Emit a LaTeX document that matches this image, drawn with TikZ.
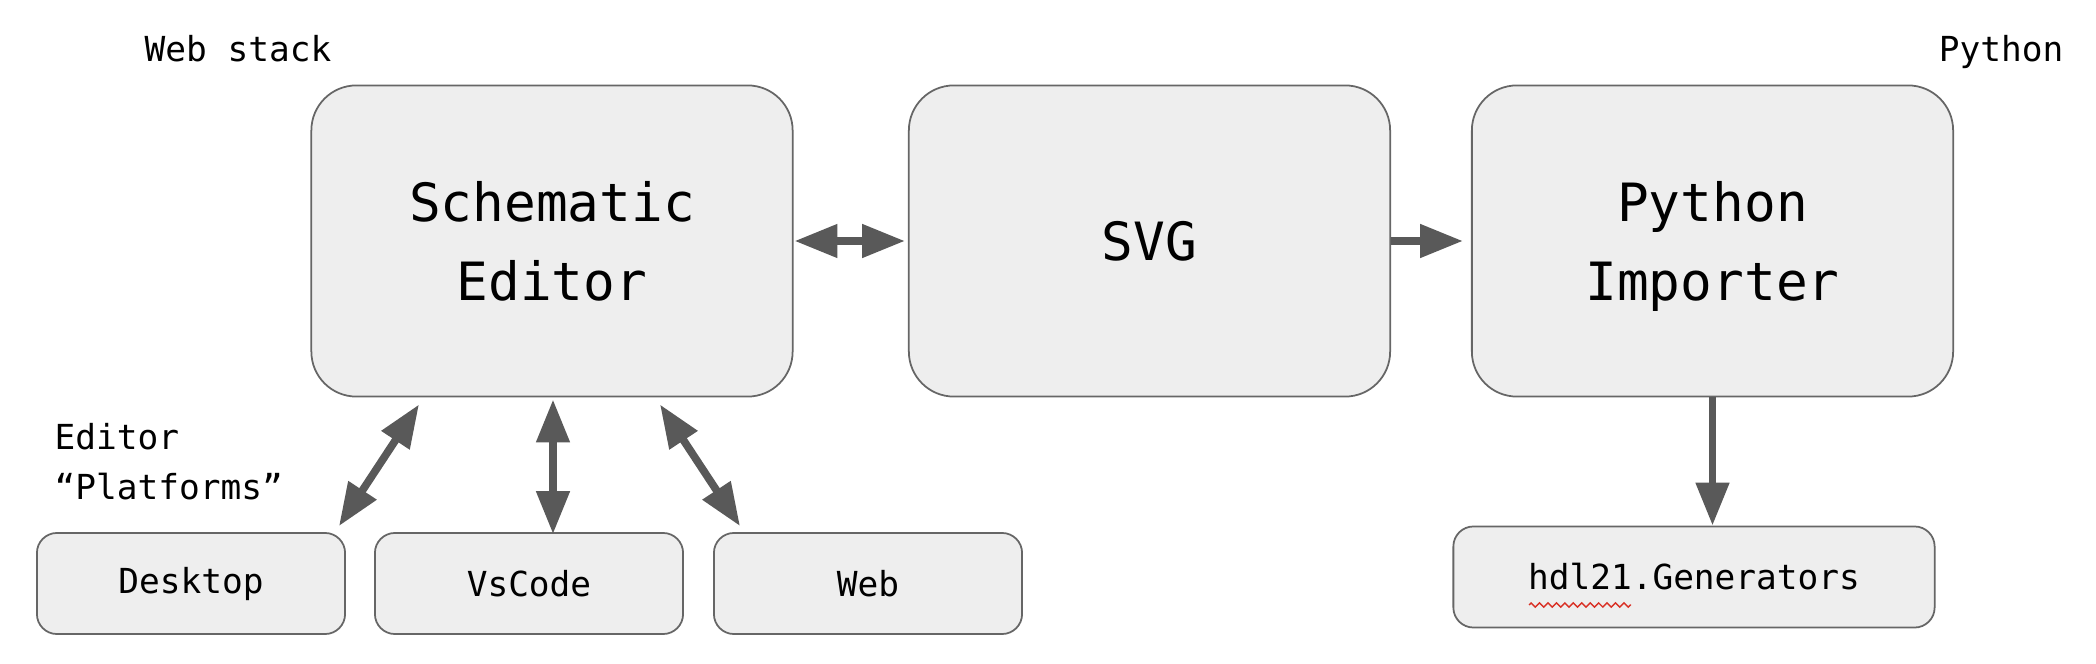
\documentclass[tikz,border=0pt]{standalone}
\usepackage{fontspec}
\setmainfont{DejaVu Sans Mono}
\usetikzlibrary{arrows.meta,decorations.pathmorphing}
\definecolor{boxgray}{HTML}{EEEEEE}
\definecolor{edgegray}{HTML}{666666}
\definecolor{arrowgray}{HTML}{595959}
\definecolor{spellred}{HTML}{D93025}
\newcommand\boxfont{\fontsize{15}{22.5}\selectfont}
\newcommand\tagfont{\fontsize{9.8}{14.2}\selectfont}
\tikzset{
  stage/.style={draw=edgegray, fill=boxgray, line width=0.5pt, rounded corners=0.45cm,
    minimum width=4.81cm, minimum height=3.11cm, align=center, font=\boxfont},
  plat/.style={stage, rounded corners=0.2cm, minimum width=3.08cm,
    minimum height=1.01cm, font=\tagfont},
  tag/.style={inner sep=0pt, align=left, font=\tagfont},
  link/.style={arrowgray, line width=2.2pt, -{Triangle[length=12.2pt,width=9.1pt]}},
  dlink/.style={link, {Triangle[length=12.2pt,width=9.1pt]}-{Triangle[length=12.2pt,width=9.1pt]}},
}
\begin{document}
\begin{tikzpicture}[x=0.01cm, y=-0.01cm]
    \useasboundingbox (0,0) rectangle (2096,664);
    %% main stages
    \node[stage] (editor) at (552,241) {Schematic\\Editor};
    \node[stage] (svg) at (1149.5,241) {SVG};
    \node[stage] (importer) at (1712.5,241) {Python\\\smash{Importer}};
    \node[plat, minimum width=4.81cm] (gens) at (1694,577) {hdl21.Generators};
    %% platforms
    \foreach \nm/\lbl/\x in {desktop/Desktop/191, vscode/VsCode/529, web/Web/868}
        \node[plat] (\nm) at (\x,583.5) {\lbl};
    %% labels
    \node[tag, anchor=base west] (webstack) at (144,62) {Web stack};
    \node[tag, anchor=base east] (pystack) at (2064,62) {Python};
    \node[tag, anchor=base west] (platlabel) at (54,499) {Editor\\“Platforms”};
    %% connectors
    \draw[dlink] ([shift={(1,0)}]editor.east) -- ([shift={(-3,0)}]svg.west);
    \draw[link] (svg.east) -- ([shift={(-8,0)}]importer.west);
    \draw[link] (importer.south) -- (importer.south |- gens.north);
    \draw[dlink] ([shift={(-133,7)}]editor.south) -- ([shift={(-7,-6)}]desktop.north east);
    \draw[dlink] ([shift={(1,2)}]editor.south) -- ([shift={(1,2)}]editor.south |- vscode.north);
    \draw[dlink] ([shift={(108,7)}]editor.south) -- ([shift={(27,-6)}]web.north west);
    %% spell mark
    \draw[spellred, line width=0.4pt, decorate,
        decoration={zigzag, amplitude=0.6pt, segment length=2.4pt}]
        ([shift={(-165,28)}]gens.center) -- ([shift={(-63,28)}]gens.center);
\end{tikzpicture}
\end{document}
